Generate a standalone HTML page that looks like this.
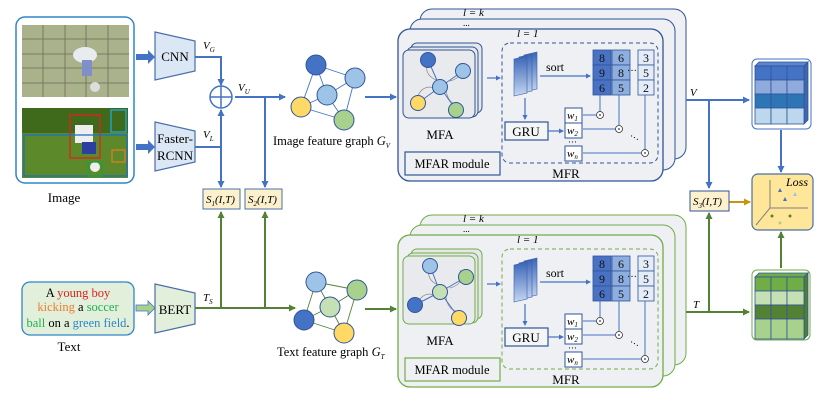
<!DOCTYPE html>
<html><head><meta charset="utf-8"><style>
html,body{margin:0;padding:0;background:#fff;}
svg{display:block;font-family:"Liberation Serif",serif;}
</style></head><body>
<svg width="830" height="403" viewBox="0 0 830 403" xmlns="http://www.w3.org/2000/svg">
<defs>
<marker id="ab" markerWidth="8" markerHeight="8" refX="6" refY="4" orient="auto" markerUnits="userSpaceOnUse"><path d="M0,0.5 L7,4 L0,7.5z" fill="#4472c4"/></marker>
<marker id="ag" markerWidth="8" markerHeight="8" refX="6" refY="4" orient="auto" markerUnits="userSpaceOnUse"><path d="M0,0.5 L7,4 L0,7.5z" fill="#548235"/></marker>
<marker id="ao" markerWidth="8" markerHeight="8" refX="6" refY="4" orient="auto" markerUnits="userSpaceOnUse"><path d="M0,0.5 L7,4 L0,7.5z" fill="#c8960c"/></marker>
<marker id="as" markerWidth="5" markerHeight="5" refX="4" refY="2.5" orient="auto" markerUnits="userSpaceOnUse"><path d="M0,0 L5,2.5 L0,5z" fill="#4472c4"/></marker>
<linearGradient id="fm" x1="0" y1="0" x2="0" y2="1"><stop offset="0" stop-color="#3a66b8"/><stop offset="1" stop-color="#c5d6f0"/></linearGradient>
<g id="mod">
 <rect x="420" y="9" width="266" height="150" rx="12" fill="#eef0f3" stroke="currentColor"/>
 <rect x="410" y="19" width="265" height="151" rx="12" fill="#eef0f3" stroke="currentColor"/>
 <rect x="398" y="29" width="265" height="152" rx="12" fill="#eff0f3" stroke="currentColor" stroke-width="1.3"/>
 <text x="463" y="16" font-size="11" font-style="italic">l = k</text>
 <text x="463" y="26" font-size="9">...</text>
 <text x="517" y="37" font-size="11" font-style="italic">l = 1</text>
 <rect x="411" y="43" width="71" height="70" rx="6" fill="#e6e7ea" stroke="currentColor"/>
 <rect x="407" y="47" width="71" height="70" rx="6" fill="#e6e7ea" stroke="currentColor"/>
 <rect x="403" y="50" width="72" height="68" rx="6" fill="#e9eaed" stroke="currentColor"/>
 <text x="440" y="139" font-size="13" text-anchor="middle">MFA</text>
 <rect x="405" y="152" width="95" height="23" fill="none" stroke="currentColor" stroke-width="1.2"/>
 <text x="452" y="168" font-size="12.5" text-anchor="middle">MFAR module</text>
 <rect x="502" y="43" width="156" height="120" rx="8" fill="none" stroke="currentColor" stroke-dasharray="4,3"/>
 <text x="566" y="178" font-size="13" text-anchor="middle">MFR</text>
 <line x1="487" y1="78" x2="500" y2="78" stroke="#4472c4" stroke-width="1.2" marker-end="url(#as)"/>
 <path d="M524,55 l13,-3 v37 l-13,3z" fill="url(#fm)" stroke="#3a5fa8" stroke-width="0.6"/>
 <path d="M519,57 l13,-3 v37 l-13,3z" fill="url(#fm)" stroke="#3a5fa8" stroke-width="0.6"/>
 <path d="M514,59 l13,-3 v37 l-13,3z" fill="url(#fm)" stroke="#3a5fa8" stroke-width="0.6"/>
 <text x="555" y="71" font-size="12" text-anchor="middle">sort</text>
 <line x1="540" y1="76" x2="590" y2="76" stroke="#4472c4" stroke-width="1.2" marker-end="url(#as)"/>
 <g font-size="12" text-anchor="middle" stroke="#2f5597" stroke-width="0.8">
  <rect x="593" y="50" width="18" height="15" fill="#4a72c4"/><rect x="593" y="65" width="18" height="15" fill="#4a72c4"/><rect x="593" y="80" width="18" height="15" fill="#4a72c4"/>
  <rect x="612" y="50" width="18" height="15" fill="#8eaee0"/><rect x="612" y="65" width="18" height="15" fill="#8eaee0"/><rect x="612" y="80" width="18" height="15" fill="#8eaee0"/>
  <rect x="638" y="50" width="16" height="15" fill="#e3ecf8"/><rect x="638" y="65" width="16" height="15" fill="#e3ecf8"/><rect x="638" y="80" width="16" height="15" fill="#e3ecf8"/>
 </g>
 <g font-size="12" text-anchor="middle" fill="#111">
  <text x="602" y="62">8</text><text x="602" y="77">9</text><text x="602" y="92">6</text>
  <text x="621" y="62">6</text><text x="621" y="77">8</text><text x="621" y="92">5</text>
  <text x="646" y="62">3</text><text x="646" y="77">5</text><text x="646" y="92">2</text>
  <text x="632" y="74" font-size="10">···</text>
 </g>
 <g stroke="#4472c4" stroke-width="1" fill="none">
  <line x1="600" y1="95" x2="600" y2="112"/><line x1="619" y1="95" x2="619" y2="125"/><line x1="645" y1="95" x2="645" y2="150"/>
  <line x1="583" y1="115" x2="596" y2="115"/><line x1="583" y1="129" x2="615" y2="129"/><line x1="583" y1="153" x2="641" y2="153"/>
 </g>
 <g fill="#fff" stroke="#333" stroke-width="0.8">
  <circle cx="600" cy="115" r="3.5"/><circle cx="619" cy="129" r="3.5"/><circle cx="645" cy="153" r="3.5"/>
 </g>
 <g fill="#333"><circle cx="600" cy="115" r="0.9"/><circle cx="619" cy="129" r="0.9"/><circle cx="645" cy="153" r="0.9"/></g>
 <text x="628" y="140" font-size="10" transform="rotate(30 632 140)">···</text>
 <g fill="#fff" stroke="#2f5597" stroke-width="1">
  <rect x="565" y="108" width="17" height="15"/><rect x="565" y="123" width="17" height="15"/><rect x="565" y="146" width="17" height="15"/>
 </g>
 <g font-size="11" font-style="italic">
  <text x="567" y="119">w<tspan font-size="7" dy="2">1</tspan></text>
  <text x="567" y="134">w<tspan font-size="7" dy="2">2</tspan></text>
  <text x="567" y="157">w<tspan font-size="7" dy="2">n</tspan></text>
 </g>
 <text x="568" y="145" font-size="9">···</text>
 <rect x="505" y="122" width="43" height="18" fill="#f4f5f7" stroke="#2f5597" stroke-width="1.2"/>
 <text x="526" y="136" font-size="13" text-anchor="middle">GRU</text>
 <line x1="548" y1="131" x2="563" y2="131" stroke="#4472c4" stroke-width="1.2" marker-end="url(#as)"/>
 <line x1="525" y1="98" x2="525" y2="119" stroke="#4472c4" stroke-width="1.2" marker-end="url(#as)"/>
</g>
<g id="cube">
 <g stroke="#2f5597" stroke-width="0.8">
  <path d="M756,66 l4,-5 h52 l-4,5z" fill="#5a85d0"/>
  <path d="M808,66 l4,-5 v58 l-4,5z" fill="#3f66b0"/>
 </g>
</g>
</defs>

<!-- Image panel -->
<rect x="16" y="17" width="118" height="166" rx="9" fill="#fff" stroke="#2e86c8" stroke-width="1.5"/>
<rect x="22" y="25" width="107" height="72" fill="#a9b28a"/>
<g stroke="#6e6a5a" stroke-width="0.8">
 <line x1="22" y1="39" x2="129" y2="39"/><line x1="22" y1="54" x2="129" y2="54"/><line x1="22" y1="68" x2="129" y2="68"/><line x1="22" y1="83" x2="129" y2="83"/>
 <line x1="43" y1="25" x2="43" y2="97"/><line x1="65" y1="25" x2="65" y2="97"/><line x1="86" y1="25" x2="86" y2="97"/><line x1="108" y1="25" x2="108" y2="97"/>
</g>
<ellipse cx="85" cy="55" rx="12" ry="8" fill="#e8ecef"/><rect x="82" y="60" width="10" height="16" fill="#7f8fc8"/><circle cx="95" cy="87" r="5" fill="#ddd"/>
<rect x="22" y="108" width="106" height="70" fill="#5c8a2a"/>
<rect x="22" y="108" width="106" height="25" fill="#3f6a1c"/>
<rect x="75" y="125" width="18" height="18" fill="#eee"/><rect x="82" y="142" width="14" height="12" fill="#2a3fa0"/><circle cx="95" cy="167" r="5" fill="#eee"/>
<g fill="none" stroke-width="1.3">
 <rect x="70" y="115" width="30" height="43" stroke="#e02020"/>
 <rect x="24" y="135" width="103" height="41" stroke="#1e6fc0"/>
 <rect x="111" y="110" width="15" height="22" stroke="#20a8d8"/>
 <rect x="112" y="150" width="13" height="12" stroke="#e07a20"/>
 <rect x="88" y="162" width="14" height="14" stroke="#20a040"/>
</g>
<text x="64" y="202" font-size="13" text-anchor="middle">Image</text>

<!-- block arrows -->
<path d="M136,54 h12 v-4 l7,7 l-7,7 v-4 h-12z" fill="#4472c4"/>
<path d="M136,144 h12 v-4 l7,7 l-7,7 v-4 h-12z" fill="#4472c4"/>
<path d="M136,305 h12 v-4 l7,7 l-7,7 v-4 h-12z" fill="#a9d18e" stroke="#4472c4" stroke-width="0.8"/>

<!-- encoders -->
<path d="M155,32 L195,41 L195,71 L155,80z" fill="#dbe7f5" stroke="#4a6fa8" stroke-width="1.2"/>
<text x="175" y="61" font-size="13" text-anchor="middle">CNN</text>
<path d="M155,122 L195,131 L195,162 L155,171z" fill="#dbe7f5" stroke="#4a6fa8" stroke-width="1.2"/>
<text x="175" y="143" font-size="13" text-anchor="middle">Faster-</text>
<text x="175" y="160" font-size="13" text-anchor="middle">RCNN</text>
<path d="M155,284 L195,293 L195,324 L155,333z" fill="#e2efda" stroke="#4a6fa8" stroke-width="1.2"/>
<text x="175" y="314" font-size="13" text-anchor="middle">BERT</text>

<!-- image feature lines -->
<g stroke="#4472c4" stroke-width="2" fill="none">
 <polyline points="195,57 221,57 221,85" marker-end="url(#ab)"/>
 <polyline points="195,147 221,147 221,110" marker-end="url(#ab)"/>
 <line x1="221" y1="147" x2="221" y2="187" marker-end="url(#ab)"/>
 <line x1="235" y1="97" x2="285" y2="97" marker-end="url(#ab)"/>
 <line x1="265" y1="97" x2="265" y2="187" marker-end="url(#ab)"/>
 <line x1="365" y1="97" x2="396" y2="97" marker-end="url(#ab)"/>
</g>
<circle cx="221" cy="97" r="11" fill="#fff" stroke="#4472c4" stroke-width="1.5"/>
<line x1="210" y1="97" x2="232" y2="97" stroke="#4472c4" stroke-width="1.5"/><line x1="221" y1="86" x2="221" y2="108" stroke="#4472c4" stroke-width="1.5"/>
<g font-size="11" font-style="italic">
 <text x="203" y="49">V<tspan font-size="7" dy="3">G</tspan></text>
 <text x="203" y="138">V<tspan font-size="7" dy="3">L</tspan></text>
 <text x="238" y="91">V<tspan font-size="7" dy="3">U</tspan></text>
 <text x="203" y="301">T<tspan font-size="7" dy="3">S</tspan></text>
</g>

<!-- S boxes -->
<rect x="203" y="189" width="37" height="20" fill="#fdf0cc" stroke="#4a6fa8"/>
<text x="206" y="203" font-size="11" font-style="italic">S<tspan font-size="7" dy="3">1</tspan><tspan dy="-3">(I,T)</tspan></text>
<rect x="245" y="189" width="37" height="20" fill="#fdf0cc" stroke="#4a6fa8"/>
<text x="248" y="203" font-size="11" font-style="italic">S<tspan font-size="7" dy="3">2</tspan><tspan dy="-3">(I,T)</tspan></text>

<!-- image graph -->
<g stroke="#4472c4" stroke-width="0.9">
 <line x1="316" y1="65" x2="355" y2="78"/><line x1="316" y1="65" x2="327" y2="95"/><line x1="316" y1="65" x2="301" y2="107"/>
 <line x1="355" y1="78" x2="327" y2="95"/><line x1="355" y1="78" x2="344" y2="120"/><line x1="327" y1="95" x2="301" y2="107"/>
 <line x1="327" y1="95" x2="344" y2="120"/><line x1="301" y1="107" x2="344" y2="120"/>
</g>
<g stroke="#2f5597" stroke-width="1">
 <circle cx="316" cy="65" r="10" fill="#4472c4"/><circle cx="355" cy="78" r="10" fill="#9dc3e6"/><circle cx="327" cy="95" r="10" fill="#9dc3e6"/>
 <circle cx="301" cy="107" r="10" fill="#ffd966"/><circle cx="344" cy="120" r="10" fill="#a9d18e"/>
</g>
<text x="273" y="145" font-size="12.5">Image feature graph <tspan font-style="italic">G</tspan><tspan font-size="7" dy="3" font-style="italic">V</tspan></text>

<!-- text panel -->
<rect x="22" y="282" width="112" height="53" rx="8" fill="#e2efda" stroke="#2e86c8" stroke-width="1.3"/>
<g font-size="12.5" text-anchor="middle">
 <text x="78" y="297">A <tspan fill="#e02020">young boy</tspan></text>
 <text x="78" y="311"><tspan fill="#ed7d31">kicking</tspan> a <tspan fill="#20b050">soccer</tspan></text>
 <text x="78" y="327"><tspan fill="#20b050">ball</tspan> on a <tspan fill="#2e86c8">green field</tspan>.</text>
</g>
<text x="69" y="351" font-size="13" text-anchor="middle">Text</text>

<!-- text feature lines -->
<g stroke="#548235" stroke-width="2" fill="none">
 <line x1="195" y1="308" x2="295" y2="308" marker-end="url(#ag)"/>
 <line x1="221" y1="308" x2="221" y2="212" marker-end="url(#ag)"/>
 <line x1="265" y1="308" x2="265" y2="212" marker-end="url(#ag)"/>
 <line x1="365" y1="309" x2="396" y2="309" marker-end="url(#ag)"/>
</g>
<!-- text graph -->
<g stroke="#548235" stroke-width="0.9">
 <line x1="316" y1="282" x2="357" y2="290"/><line x1="316" y1="282" x2="304" y2="320"/><line x1="357" y1="290" x2="330" y2="307"/>
 <line x1="357" y1="290" x2="344" y2="333"/><line x1="330" y1="307" x2="304" y2="320"/><line x1="330" y1="307" x2="344" y2="333"/>
 <line x1="304" y1="320" x2="344" y2="333"/><line x1="316" y1="282" x2="330" y2="307"/>
</g>
<g stroke="#2f5597" stroke-width="1">
 <circle cx="316" cy="282" r="10" fill="#9dc3e6"/><circle cx="357" cy="290" r="10" fill="#a9d18e"/><circle cx="330" cy="307" r="10" fill="#c5e0b4"/>
 <circle cx="304" cy="320" r="10" fill="#4472c4"/><circle cx="344" cy="333" r="10" fill="#ffd966"/>
</g>
<text x="277" y="356" font-size="12.5">Text feature graph <tspan font-style="italic">G</tspan><tspan font-size="7" dy="3" font-style="italic">T</tspan></text>

<!-- modules -->
<use href="#mod" style="color:#2f5597"/>
<g transform="translate(0,206)"><use href="#mod" style="color:#70ad47"/></g>
<!-- MFA nodes top -->
<g stroke="#888" stroke-width="0.7" fill="none">
 <path d="M428,62 q-5,12 8,18"/><path d="M460,63 q5,14 -10,18"/><path d="M417,98 q5,-14 18,-10"/><path d="M458,104 q-10,0 -12,-14"/>
</g>
<g stroke="#4472c4" stroke-width="1"><line x1="428" y1="60" x2="440" y2="87"/><line x1="463" y1="71" x2="440" y2="87"/><line x1="418" y1="103" x2="440" y2="87"/><line x1="456" y1="110" x2="440" y2="87"/></g>
<g stroke="#2f5597" stroke-width="1">
 <circle cx="428" cy="60" r="7.5" fill="#4472c4"/><circle cx="463" cy="71" r="7.5" fill="#9dc3e6"/><circle cx="440" cy="87" r="7.5" fill="#9dc3e6"/>
 <circle cx="418" cy="103" r="7.5" fill="#ffd966"/><circle cx="456" cy="110" r="7.5" fill="#a9d18e"/>
</g>
<!-- MFA nodes bottom -->
<g stroke="#888" stroke-width="0.7" fill="none">
 <path d="M430,267 q-5,12 8,18"/><path d="M460,270 q5,14 -10,18"/><path d="M417,305 q5,-14 18,-10"/><path d="M458,311 q-10,0 -12,-14"/>
</g>
<g stroke="#4472c4" stroke-width="1"><line x1="430" y1="266" x2="440" y2="292"/><line x1="466" y1="277" x2="440" y2="292"/><line x1="415" y1="305" x2="440" y2="292"/><line x1="459" y1="318" x2="440" y2="292"/></g>
<g stroke="#2f5597" stroke-width="1">
 <circle cx="430" cy="266" r="7.5" fill="#9dc3e6"/><circle cx="466" cy="277" r="7.5" fill="#a9d18e"/><circle cx="440" cy="292" r="7.5" fill="#c5e0b4"/>
 <circle cx="415" cy="305" r="7.5" fill="#4472c4"/><circle cx="459" cy="318" r="7.5" fill="#ffd966"/>
</g>

<!-- right side -->
<g stroke="#4472c4" stroke-width="2" fill="none">
 <line x1="686" y1="100" x2="749" y2="100" marker-end="url(#ab)"/>
 <line x1="709" y1="100" x2="709" y2="188" marker-end="url(#ab)"/>
 <line x1="781" y1="130" x2="781" y2="172" marker-end="url(#ab)"/>
</g>
<g stroke="#548235" stroke-width="2" fill="none">
 <line x1="686" y1="312" x2="749" y2="312" marker-end="url(#ag)"/>
 <line x1="709" y1="312" x2="709" y2="213" marker-end="url(#ag)"/>
 <line x1="781" y1="268" x2="781" y2="232" marker-end="url(#ag)"/>
</g>
<line x1="729" y1="202" x2="750" y2="202" stroke="#c8960c" stroke-width="2" marker-end="url(#ao)"/>
<text x="690" y="96" font-size="11" font-style="italic">V</text>
<text x="693" y="308" font-size="11" font-style="italic">T</text>
<rect x="690" y="191" width="39" height="20" fill="#fdf0cc" stroke="#2f5597"/>
<text x="693" y="205" font-size="11" font-style="italic">S<tspan font-size="7" dy="3">3</tspan><tspan dy="-3">(I,T)</tspan></text>

<!-- top cube -->
<rect x="752" y="59" width="59" height="70" rx="5" fill="#fff" stroke="#4472c4"/>
<g stroke="#2f5597" stroke-width="0.8">
 <path d="M755,66 l4,-4 h49 l-4,4z" fill="#5a85d0"/>
 <path d="M804,66 l4,-4 v58 l-4,4z" fill="#3f66b0"/>
 <rect x="755" y="66" width="16" height="14" fill="#4472c4"/><rect x="771" y="66" width="16" height="14" fill="#4472c4"/><rect x="787" y="66" width="17" height="14" fill="#4472c4"/>
 <rect x="755" y="80" width="16" height="14" fill="#8faadc"/><rect x="771" y="80" width="16" height="14" fill="#8faadc"/><rect x="787" y="80" width="17" height="14" fill="#8faadc"/>
 <rect x="755" y="94" width="16" height="14" fill="#2e75b6"/><rect x="771" y="94" width="16" height="14" fill="#2e75b6"/><rect x="787" y="94" width="17" height="14" fill="#2e75b6"/>
 <rect x="755" y="108" width="16" height="16" fill="#bdd7ee"/><rect x="771" y="108" width="16" height="16" fill="#bdd7ee"/><rect x="787" y="108" width="17" height="16" fill="#bdd7ee"/>
</g>
<!-- loss -->
<rect x="752" y="174" width="61" height="56" rx="6" fill="#ffe699" stroke="#4a6fa8" stroke-width="1.2"/>
<g stroke="#808080" stroke-width="1" fill="none">
 <line x1="770" y1="208" x2="770" y2="180"/><line x1="770" y1="208" x2="808" y2="208"/><line x1="770" y1="208" x2="756" y2="225"/>
</g>
<text x="786" y="186" font-size="12" font-style="italic">Loss</text>
<g fill="#4472c4"><path d="M778,192 l2,-4 l2,4z"/><path d="M783,201 l2,-4 l2,4z"/></g><path d="M793,196 l2,-4 l2,4z" fill="#9dc3e6"/>
<circle cx="772" cy="216" r="1.5" fill="#548235"/><circle cx="790" cy="216" r="1.5" fill="#548235"/><circle cx="780" cy="223" r="1.5" fill="#a9d18e"/>
<!-- green cube -->
<rect x="752" y="270" width="58" height="70" rx="5" fill="#fff" stroke="#70ad47"/>
<g stroke="#2f5597" stroke-width="0.8">
 <path d="M755,277 l4,-4 h49 l-4,4z" fill="#70ad47"/>
 <path d="M804,277 l4,-4 v62 l-4,4z" fill="#507e32"/>
 <rect x="755" y="277" width="16" height="14" fill="#70ad47"/><rect x="771" y="277" width="16" height="14" fill="#70ad47"/><rect x="787" y="277" width="17" height="14" fill="#70ad47"/>
 <rect x="755" y="291" width="16" height="14" fill="#c5e0b4"/><rect x="771" y="291" width="16" height="14" fill="#c5e0b4"/><rect x="787" y="291" width="17" height="14" fill="#c5e0b4"/>
 <rect x="755" y="305" width="16" height="14" fill="#548235"/><rect x="771" y="305" width="16" height="14" fill="#548235"/><rect x="787" y="305" width="17" height="14" fill="#548235"/>
 <rect x="755" y="319" width="16" height="20" fill="#a9d18e"/><rect x="771" y="319" width="16" height="20" fill="#a9d18e"/><rect x="787" y="319" width="17" height="20" fill="#a9d18e"/>
</g>
</svg>
</body></html>
